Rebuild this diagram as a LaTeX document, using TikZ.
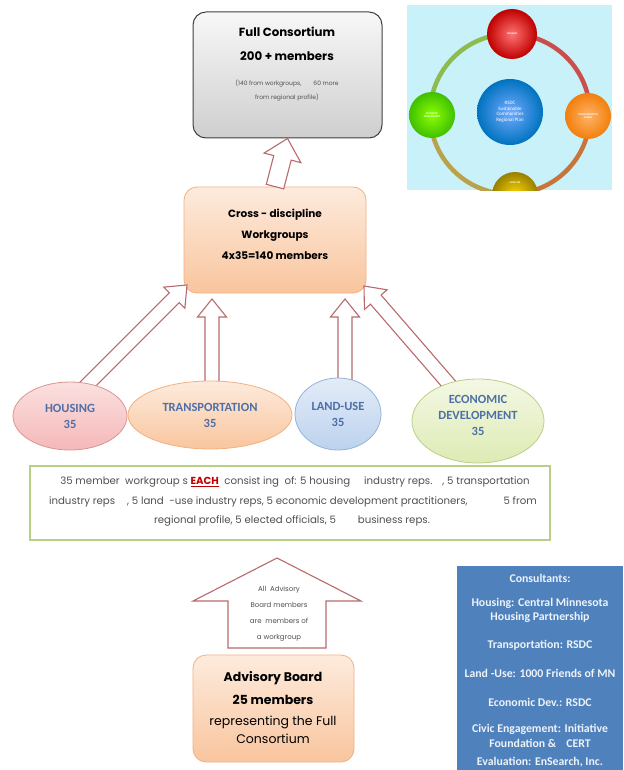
\documentclass[tikz,border=0pt]{standalone}
\usepackage{fontspec}
\setmainfont{Poppins}
\newfontfamily\calfont{Carlito}
\usetikzlibrary{calc,shapes.geometric}
\definecolor{arrred}{HTML}{B86A6C}
\definecolor{peachT}{HTML}{FDEBDD}
\definecolor{peachB}{HTML}{F9C59E}
\definecolor{peachD}{HTML}{F2B183}
\definecolor{pinkT}{HTML}{FBE0E0}
\definecolor{pinkB}{HTML}{F5B8B8}
\definecolor{pinkD}{HTML}{D99594}
\definecolor{bluT}{HTML}{E3ECF8}
\definecolor{bluB}{HTML}{BCD2EE}
\definecolor{bluD}{HTML}{95B3D7}
\definecolor{grnT}{HTML}{F4F8E4}
\definecolor{grnB}{HTML}{DDEBB4}
\definecolor{grnD}{HTML}{B9CF86}
\definecolor{lbltxt}{HTML}{4E6FA8}
\definecolor{consblue}{HTML}{4F81BD}
\definecolor{skyb}{HTML}{C9F1FA}
\definecolor{txtgray}{HTML}{505050}
\definecolor{ringR}{HTML}{C9504A}
\definecolor{ringO}{HTML}{C8753A}
\definecolor{ringY}{HTML}{B9A24A}
\definecolor{ringG}{HTML}{8DBB4E}
\tikzset{
  blk/.style={draw=arrred, line width=1.1pt, fill=white, line join=miter},
  peachbox/.style={rounded corners=13pt, draw=peachD, line width=0.8pt, top color=peachT, bottom color=peachB},
  grybox/.style={rounded corners=13pt, draw=black!75, line width=1pt, top color=gray!6, bottom color=gray!38},
  ell/.style={ellipse, line width=0.8pt},
  elltxt/.style={font=\calfont\bfseries\fontsize{12.5}{16}\selectfont, text=lbltxt, align=center},
  small/.style={font=\fontsize{6}{7}\selectfont, text=txtgray},
  desctxt/.style={font=\fontsize{10.2}{12}\selectfont, text=txtgray},
  consline/.style={font=\calfont\bfseries\fontsize{11.8}{13}\selectfont, text=white!90!consblue},
  ring/.style={line width=4.5pt},
  tinytxt/.style={font=\calfont\bfseries\fontsize{2.6}{3}\selectfont, text=white, align=center},
}
\newcommand{\blockarrow}[5]{%
  \path ($(#2)!#5!(#1)$) coordinate (hb);
  \draw[blk] ($(#1)!#3!90:(#2)$) -- ($(hb)!#3!90:(#2)$) -- ($(hb)!#4!90:(#2)$) -- (#2)
     -- ($(hb)!#4!-90:(#2)$) -- ($(hb)!#3!-90:(#2)$) -- ($(#1)!#3!-90:(#2)$) -- cycle;
}
\begin{document}
\begin{tikzpicture}[x=1pt,y=-1pt]
\useasboundingbox[fill=white] (0,0) rectangle (623,770);

% ---- top-right picture
\begin{scope}
\clip (407,5) rectangle (612,190);
\fill[skyb] (407,5) rectangle (612,190);
\draw[ring, ringR] (510,34) arc[start angle=-90, end angle=0, radius=80];
\draw[ring, ringO] (590,114) arc[start angle=0, end angle=90, radius=80];
\draw[ring, ringY] (510,194) arc[start angle=90, end angle=180, radius=80];
\draw[ring, ringG] (430,114) arc[start angle=180, end angle=270, radius=80];
\node[circle, minimum size=50, inner color=red!55, outer color=red!75!black] (ch) at (512,34) {};
\node[circle, minimum size=46, inner color=orange!60, outer color=orange!80!brown] (ct) at (588,116) {};
\node[circle, minimum size=46, inner color=green!45!yellow, outer color=green!50!olive] (ce) at (432,115) {};
\node[circle, minimum size=46, inner color=yellow!70!orange, outer color=olive!80!orange] (cl) at (515,195) {};
\node[circle, minimum size=66, inner color=cyan!40!blue!55, outer color=blue!40!cyan!75!black] (cc) at (510,112) {};
\node[font=\calfont\fontsize{5}{5.5}\selectfont, text=white, align=center] (cct) at (cc) {RSDC\\Sustainable\\Communities\\Regional Plan};
\node[tinytxt] (cht) at (ch) {HOUSING};
\node[tinytxt] (ctt) at (ct) {TRANSPORTATION\\DESIGN};
\node[tinytxt] (cet) at (ce) {ECONOMIC\\DEVELOPMENT};
\node[tinytxt] (clt) at (515,183) {LAND USE};
\end{scope}

% ---- Full Consortium
\node[grybox, minimum width=189, minimum height=126] (full) at (287.5,75) {};
\node[font=\bfseries\fontsize{11.8}{14}\selectfont] (full1) at (287,32) {Full Consortium};
\node[font=\bfseries\fontsize{11.8}{14}\selectfont] (full2) at (287,56) {200 + members};
\node[small] (full3) at (287,84) {(140 from workgroups,\hspace{12pt}60 more};
\node[small] (full4) at (287,98) {from regional profile)};

% ---- Cross-discipline box
\node[peachbox, minimum width=182, minimum height=106] (cross) at (275,240) {};
\node[font=\bfseries\fontsize{10.5}{12}\selectfont] (cr1) at (275,215) {Cross - discipline};
\node[font=\bfseries\fontsize{10.5}{12}\selectfont] (cr2) at (275,236) {Workgroups};
\node[font=\bfseries\fontsize{10.5}{12}\selectfont] (cr3) at (275,256) {4x35=140 members};

% ---- arrows (drawn first, ellipses go over their feet)
\coordinate (a1s) at (cross.north);
\coordinate (a1t) at (full.south);
\blockarrow{a1s}{a1t}{9pt}{19pt}{20pt}
\coordinate (a2s) at (80,392);
\coordinate (a2t) at (187,285);
\blockarrow{a2s}{a2t}{7pt}{15pt}{18pt}
\coordinate (a3s) at (212,388);
\coordinate (a3t) at (212,299);
\blockarrow{a3s}{a3t}{7pt}{14.5pt}{18pt}
\coordinate (a4s) at (345,385);
\coordinate (a4t) at (345,299);
\blockarrow{a4s}{a4t}{7pt}{14.5pt}{18pt}
\coordinate (a5s) at (454,390);
\coordinate (a5t) at (364,286);
\blockarrow{a5s}{a5t}{7pt}{15pt}{18pt}

% ---- ellipses
\node[ell, draw=pinkD, top color=pinkT, bottom color=pinkB, minimum width=114, minimum height=68] (hous) at (70,416) {};
\node[ell, draw=peachD, top color=peachT, bottom color=peachB, minimum width=164, minimum height=68] (trans) at (210,415) {};
\node[ell, draw=bluD, top color=bluT, bottom color=bluB, minimum width=86, minimum height=72] (land) at (338,414) {};
\node[ell, draw=grnD, top color=grnT, bottom color=grnB, minimum width=132, minimum height=84] (econ) at (478,421) {};
\node[elltxt] (houst) at (70,416) {HOUSING\\35};
\node[elltxt] (transt) at (210,415) {TRANSPORTATION\\35};
\node[elltxt] (landt) at (338,414) {LAND-USE\\35};
\node[elltxt] (econt) at (478,415) {ECONOMIC\\DEVELOPMENT\\35};

% ---- description box
\node[draw=grnD, line width=1.4pt, minimum width=520, minimum height=74] (desc) at (290,503) {};
\node[desctxt] (d1) at (295,482) {35 member\ \ workgroup s {\color{red!75!black}\bfseries\underline{EACH}}\ \ consist ing\ \ of: 5 housing\hspace{14pt}industry reps.\hspace{10pt}, 5 transportation};
\node[desctxt] (d2) at (293,502) {industry reps\hspace{12pt}, 5 land\ \ -use industry reps, 5 economic development practitioners,\hspace{36pt}5 from};
\node[desctxt] (d3) at (292,521) {regional profile, 5 elected officials, 5\hspace{22pt}business reps.};

% ---- Advisory board
\node[peachbox, minimum width=161, minimum height=107] (adv) at (273.5,708.5) {};
\coordinate (a6s) at (277,648);
\coordinate (a6t) at (277,558);
\blockarrow{a6s}{a6t}{49pt}{84pt}{43pt}
\node[small, align=center, font=\fontsize{7}{16}\selectfont] (a6txt) at (279,614) {All\ \ Advisory\\Board members\\are\ \ members of\\a workgroup};
\node[font=\bfseries\fontsize{12.5}{14}\selectfont] (adv1) at (273,678) {Advisory Board};
\node[font=\bfseries\fontsize{12.5}{14}\selectfont] (adv2) at (273,700) {25 members};
\node[font=\fontsize{12.5}{14}\selectfont] (adv3) at (273,722) {representing the Full};
\node[font=\fontsize{12.5}{14}\selectfont] (adv4) at (273,739) {Consortium};

% ---- consultants
\node[fill=consblue, minimum width=166, minimum height=204, inner sep=0] (cons) at (540,668) {};
\node[consline] (c1) at (540,578) {Consultants:};
\node[consline] (c2) at (540,603) {Housing: Central Minnesota};
\node[consline] (c3) at (540,617) {Housing Partnership};
\node[consline] (c4) at (540,645) {Transportation: RSDC};
\node[consline] (c5) at (540,673) {Land -Use: 1000 Friends of MN};
\node[consline] (c6) at (540,702) {Economic Dev.: RSDC};
\node[consline] (c7) at (540,729) {Civic Engagement: Initiative};
\node[consline] (c8) at (540,743) {Foundation \&\hspace{10pt}CERT};
\node[consline] (c9) at (540,762) {Evaluation: EnSearch, Inc.};
\end{tikzpicture}
\end{document}
